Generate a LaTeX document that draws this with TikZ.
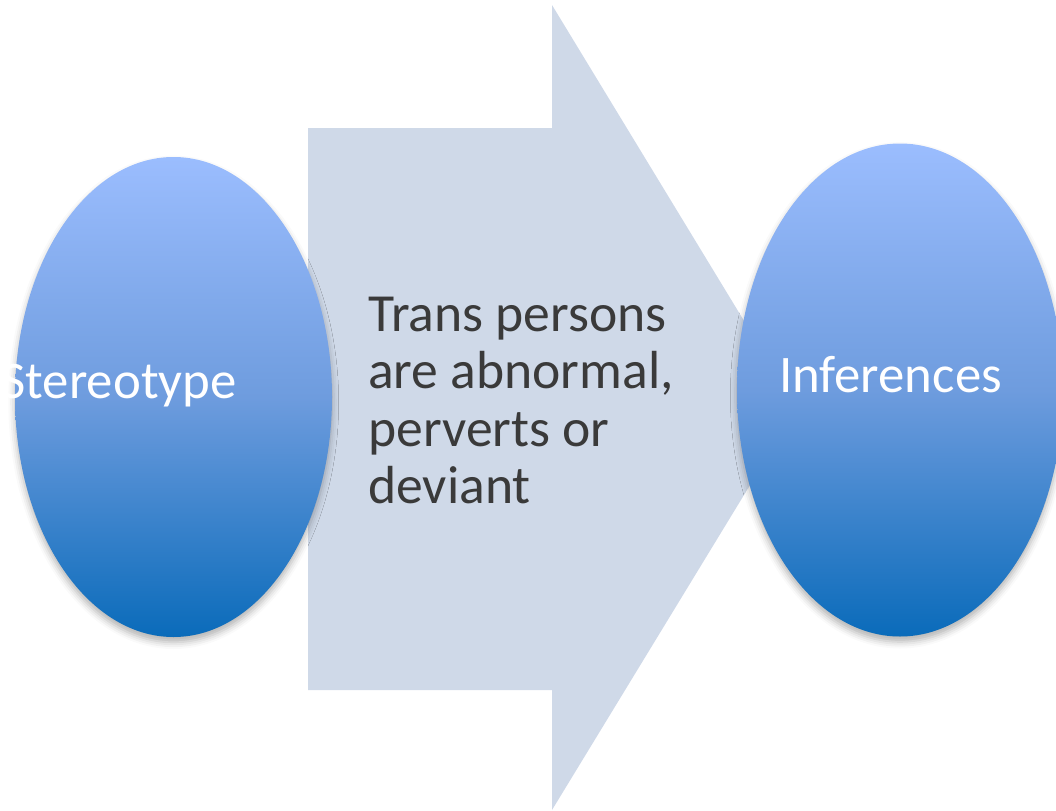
\documentclass[tikz,border=0pt]{standalone}
\usepackage{fontspec}
\setmainfont{Carlito}
\usetikzlibrary{shapes.geometric,shadows.blur}
\definecolor{arrowfill}{RGB}{207,217,232}
\definecolor{balltop}{RGB}{155,189,254}
\definecolor{ballmid}{RGB}{110,156,222}
\definecolor{ballbot}{RGB}{10,107,186}
\definecolor{darktext}{RGB}{58,58,58}
\tikzset{
  ball/.style={ellipse, inner sep=0pt, draw=none,
    top color=balltop, bottom color=ballbot, middle color=ballmid,
    blur shadow={shadow xshift=0pt, shadow yshift=-4pt, shadow blur radius=5pt, shadow opacity=30}},
  balltext/.style={text=white, inner sep=0pt, font=\fontsize{39.6}{42.5}\selectfont},
  arrowtext/.style={text=darktext, inner sep=0pt, align=left, font=\fontsize{40.2}{43}\selectfont}
}
\begin{document}
\begin{tikzpicture}[x=0.75pt,y=-0.75pt]
\useasboundingbox (0,0) rectangle (1056,810);
\clip (0,0) rectangle (1056,810);
\fill[arrowfill] (308,128) -- (552,128) -- (552,5) -- (797,408) -- (552,810) -- (552,690) -- (308,690) -- cycle;
\node[ball, minimum width=237.75pt, minimum height=360pt] (left) at (173.5,397) {};
\node[ball, minimum width=244.5pt, minimum height=369.75pt] (right) at (900,390) {};
\node[balltext, anchor=base] (stereo) at (119,398) {Stereotype};
\node[balltext, anchor=base] (infer) at (890.5,392) {Inferences};
\node[arrowtext, anchor=north west] (claim) at (368,297) {Trans persons\\are abnormal,\\perverts or\\deviant};
\end{tikzpicture}
\end{document}
